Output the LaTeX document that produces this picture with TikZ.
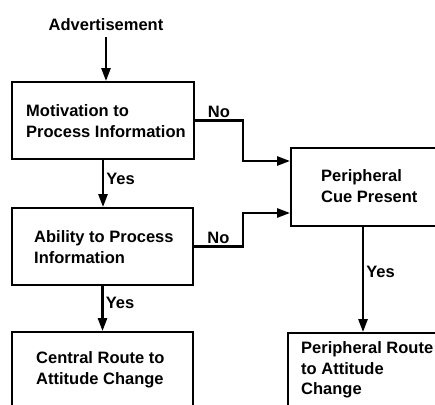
\documentclass[tikz,border=0pt]{standalone}
\usepackage{fontspec}
\setmainfont{Liberation Sans}
\usetikzlibrary{arrows.meta}
\begin{document}
\begin{tikzpicture}[x=1pt,y=-1pt,
  box/.style={draw,line width=1.8pt,minimum width=#1,inner sep=0pt},
  txt/.style={font=\fontsize{16.5}{20.5}\selectfont\bfseries,align=left,anchor=west,inner sep=0pt},
  lab/.style={font=\fontsize{16.5}{19}\selectfont\bfseries,inner sep=2pt},
  arr/.style={line width=2.5pt,-{Triangle[width=9pt,length=13pt]}}]
\clip (0,0) rectangle (435,404);
\fill[white] (0,0) rectangle (435,404);
% boxes
\node[box=182pt,minimum height=77pt] (b1) at (103,120.5) {};
\node[box=181pt,minimum height=77pt] (b2) at (102.5,246.5) {};
\node[box=181pt,minimum height=108pt] (b3) at (102.5,386) {};
\node[box=159pt,minimum height=78pt] (pc) at (370.5,187) {};
\node[box=162pt,minimum height=107pt] (pr) at (369,386.5) {};
% texts
\node[lab] (adv) at (106,25) {Advertisement};
\node[txt] (t1) at (26,121) {Motivation to\\Process Information};
\node[txt] (t2) at (34,247) {Ability to Process\\Information};
\node[txt] (t3) at (36,370) {Central Route to\\Attitude Change};
\node[txt] (t4) at (321,186) {Peripheral\\Cue Present};
\node[txt] (t5) at (301,370) {Peripheral Route\\to Attitude\\Change};
% helper coordinates
\coordinate (m) at (243,0);
\coordinate (c) at (363,0);
% connectors
\draw[arr] ([yshift=-4pt]adv.south) -- (adv.south |- b1.north);
\draw[arr] (b1.south) -- node[lab,anchor=west,pos=0.4]{Yes} (b1.south |- b2.north);
\draw[arr] (b2.south) -- node[lab,anchor=west,pos=0.38]{Yes} (b2.south |- b3.north);
\draw[arr] (b1.east) -- node[lab,above]{No} (b1.east -| m) |- ([yshift=26pt]pc.west);
\draw[arr] (b2.east) -- node[lab,above]{No} (b2.east -| m) |- ([yshift=-26pt]pc.west);
\draw[arr] (pc.south -| c) -- node[lab,anchor=west,pos=0.43]{Yes} (pr.north -| c);
\end{tikzpicture}
\end{document}
